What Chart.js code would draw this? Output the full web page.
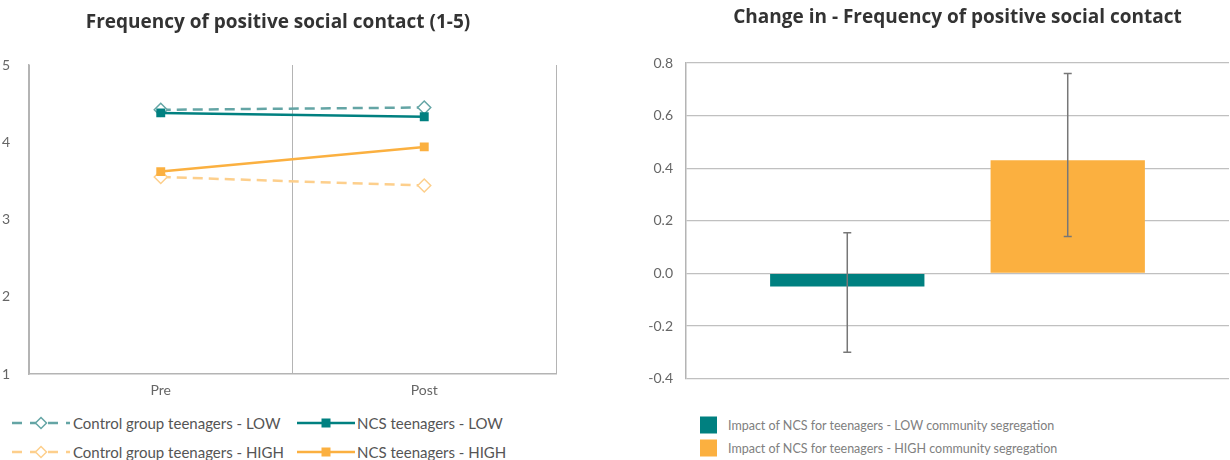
<!DOCTYPE html>
<html><head><meta charset="utf-8">
<script src="https://cdn.jsdelivr.net/npm/chart.js@4"></script>
<style>
html,body{margin:0;padding:0;background:#fff;width:1230px;height:460px;overflow:hidden;font-family:Lato,sans-serif;}
#left{position:absolute;left:0;top:0;width:580px;height:400px;}
#right{position:absolute;left:600px;top:0;width:630px;height:400px;}
.lg{position:absolute;display:flex;align-items:center;white-space:nowrap;transform:translateY(-50%);}
.lg svg{display:block;}
.l1{font-size:15px;color:#555;}
.l2{font-size:12.5px;color:#808080;}
.sw{width:17px;height:17px;margin-right:11px;}
</style></head><body>
<div id="left"><canvas id="c1"></canvas></div>
<div id="right"><canvas id="c2"></canvas></div>
<div id="legends"></div>
<script>
// ---- data: left chart ----
const categories = ['Pre', 'Post'];
const seriesNames = ['Control group teenagers - LOW', 'NCS teenagers - LOW', 'Control group teenagers - HIGH', 'NCS teenagers - HIGH'];
const controlLow = [4.42, 4.45];
const ncsLow = [4.38, 4.33];
const controlHigh = [3.55, 3.44];
const ncsHigh = [3.62, 3.94];
const leftTicks = [1, 2, 3, 4, 5];
const leftTitle = 'Frequency of positive social contact (1-5)';

// ---- data: right chart ----
const impactNames = ['Impact of NCS for teenagers - LOW community segregation', 'Impact of NCS for teenagers - HIGH community segregation'];
const impactValues = [-0.05, 0.43];
const impactLow = [-0.30, 0.14];
const impactHigh = [0.155, 0.76];
const rightTicks = [-0.4, -0.2, 0.0, 0.2, 0.4, 0.6, 0.8];
const rightTitle = 'Change in - Frequency of positive social contact';

const FONT = 'Lato';
const TITLE_FONT = 'Open Sans';
const teal = '#008080', tealLight = '#64a5a5', orange = '#fbb040', orangeLight = '#fdcf8c';

const leftSeries = [controlLow, ncsLow, controlHigh, ncsHigh];
const leftColors = [tealLight, teal, orangeLight, orange];
const leftDashed = [true, false, true, false];

const c1 = new Chart(document.getElementById('c1'), {
  type: 'line',
  data: {
    labels: categories,
    datasets: leftSeries.map((d, i) => ({
      label: seriesNames[i],
      data: d,
      borderColor: leftColors[i],
      backgroundColor: leftDashed[i] ? '#ffffff' : leftColors[i],
      borderWidth: 2.5,
      borderDash: leftDashed[i] ? [10, 6] : [],
      pointStyle: leftDashed[i] ? 'rectRot' : 'rect',
      pointRadius: leftDashed[i] ? 6.5 : 6.3,
      pointBorderWidth: leftDashed[i] ? 1.5 : 0,
      pointBackgroundColor: leftDashed[i] ? '#ffffff' : leftColors[i],
      pointBorderColor: leftColors[i],
      order: leftDashed[i] ? 1 : 0,
      tension: 0
    }))
  },
  options: {
    responsive: true, maintainAspectRatio: false, animation: false,
    layout: { padding: { left: 0, right: 24, top: 0, bottom: 0 } },
    plugins: {
      legend: { display: false },
      tooltip: { enabled: false },
      title: {
        display: true, text: leftTitle, color: '#333',
        font: { family: TITLE_FONT, size: 19, weight: 'bold', lineHeight: 1.2 },
        padding: { top: 11, bottom: 31.2 }
      }
    },
    scales: {
      x: {
        offset: true,
        grid: { offset: true, color: '#b4b4b4', lineWidth: 1, drawTicks: false },
        border: { color: '#b4b4b4', width: 1.5 },
        ticks: { color: '#666', font: { family: FONT, size: 14 }, padding: 8 },
        afterFit: s => { s.height = 26; }
      },
      y: {
        min: leftTicks[0], max: leftTicks[leftTicks.length - 1],
        afterBuildTicks: s => { s.ticks = leftTicks.map(v => ({ value: v })); },
        grid: { display: false },
        border: { color: '#b4b4b4', width: 1.5 },
        ticks: { color: '#666', font: { family: FONT, size: 14 }, padding: 11 },
        afterFit: s => { s.width = 29; }
      }
    }
  }
});

const errorBars = {
  id: 'errorBars',
  afterDatasetsDraw(chart) {
    const { ctx } = chart;
    const y = chart.scales.y;
    chart.data.datasets.forEach((ds, i) => {
      const meta = chart.getDatasetMeta(i);
      meta.data.forEach(bar => {
        const x = bar.x;
        const top = y.getPixelForValue(impactHigh[i]);
        const bot = y.getPixelForValue(impactLow[i]);
        ctx.save();
        ctx.strokeStyle = '#777';
        ctx.lineWidth = 1.5;
        ctx.beginPath();
        ctx.moveTo(x, top); ctx.lineTo(x, bot);
        ctx.moveTo(x - 4, top); ctx.lineTo(x + 4, top);
        ctx.moveTo(x - 4, bot); ctx.lineTo(x + 4, bot);
        ctx.stroke();
        ctx.restore();
      });
    });
  }
};

const rightColors = [teal, orange];
const c2 = new Chart(document.getElementById('c2'), {
  type: 'bar',
  data: {
    labels: [''],
    datasets: impactValues.map((v, i) => ({
      label: impactNames[i],
      data: [v],
      backgroundColor: rightColors[i],
      borderWidth: 0,
      categoryPercentage: 0.812,
      barPercentage: 0.7
    }))
  },
  options: {
    responsive: true, maintainAspectRatio: false, animation: false,
    layout: { padding: { left: 0, right: 1, top: 0, bottom: 8 } },
    plugins: {
      legend: { display: false },
      tooltip: { enabled: false },
      title: {
        display: true, text: rightTitle, color: '#333', fullSize: false,
        font: { family: TITLE_FONT, size: 19, weight: 'bold', lineHeight: 1.2 },
        padding: { top: 6, bottom: 34.2 }
      }
    },
    scales: {
      x: { display: false },
      y: {
        min: rightTicks[0], max: rightTicks[rightTicks.length - 1],
        afterBuildTicks: s => { s.ticks = rightTicks.map(v => ({ value: v })); },
        grid: { color: '#c0c0c0', lineWidth: 1.2, drawTicks: false },
        border: { color: '#b4b4b4', width: 1.5 },
        ticks: {
          color: '#666', font: { family: FONT, size: 14 }, padding: 13,
          callback: v => (Math.abs(v) < 1e-9 ? 0 : v).toFixed(1)
        },
        afterFit: s => { s.width = 86; }
      }
    }
  },
  plugins: [errorBars]
});

// ---- HTML legends ----
const lgRoot = document.getElementById('legends');
const leftPos = [[12, 423], [297, 423], [12, 452], [297, 452]];
seriesNames.forEach((name, i) => {
  const col = leftColors[i];
  const dashed = leftDashed[i];
  const marker = dashed
    ? `<polygon points="29,2.5 34.5,8 29,13.5 23.5,8" fill="#fff" stroke="${col}" stroke-width="1.5"/>`
    : `<rect x="24.5" y="3.5" width="9" height="9" fill="${col}"/>`;
  const line = `<line x1="0" y1="8" x2="58" y2="8" stroke="${col}" stroke-width="2.5" ${dashed ? 'stroke-dasharray="10,8"' : ''}/>`;
  const el = document.createElement('div');
  el.className = 'lg l1';
  el.style.left = leftPos[i][0] + 'px';
  el.style.top = leftPos[i][1] + 'px';
  el.innerHTML = `<svg width="58" height="16" style="margin-right:${dashed ? 3 : 2}px">${line}${marker}</svg><span>${name}</span>`;
  lgRoot.appendChild(el);
});
const rightPos = [[700, 425], [700, 448]];
impactNames.forEach((name, i) => {
  const el = document.createElement('div');
  el.className = 'lg l2';
  el.style.left = rightPos[i][0] + 'px';
  el.style.top = rightPos[i][1] + 'px';
  el.innerHTML = `<div class="sw" style="background:${rightColors[i]}"></div><span>${name}</span>`;
  lgRoot.appendChild(el);
});
</script>
</body></html>
